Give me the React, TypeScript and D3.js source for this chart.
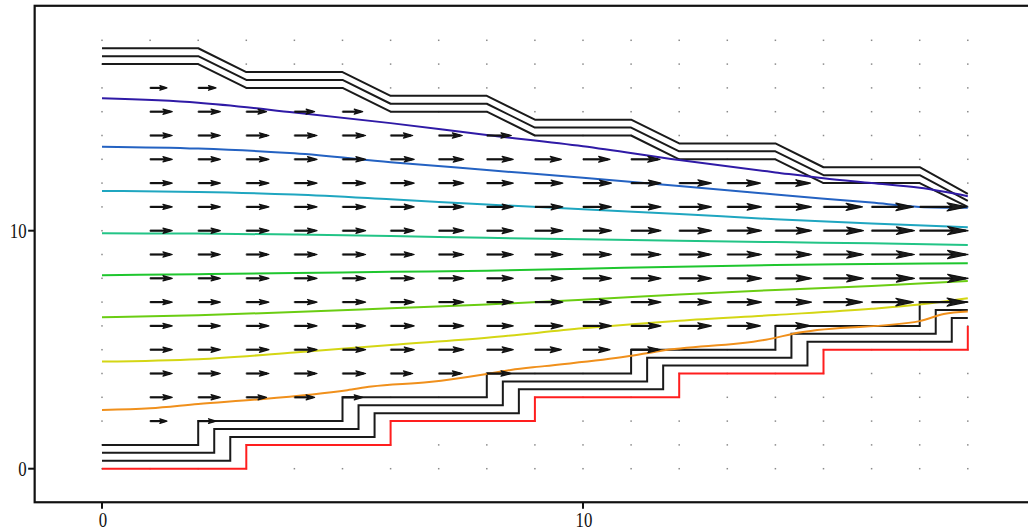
import * as d3 from 'd3';

// plot box in data units (Maple-style boxed axes)
const xDomain = [-1.4, 19.45];
const yDomain = [-1.41, 19.45];
const xTicks = [0, 10];
const yTicks = [0, 10];

// upper wall (stairs with sloped risers) and its two parallel copies
const topWallX = [0, 2, 3, 5, 6, 8, 9, 11, 12, 14, 15, 17, 18];
const topWallY = [17, 17, 16, 16, 15, 15, 14, 14, 13, 13, 12, 12, 11];
const topLineOffsets = [0, 1 / 3, 2 / 3];
const topLineEndY = [11, 11.25, 11.55];

// lower wall (red) and the three shifted black copies
const bottomWallX = [0, 3, 3, 6, 6, 9, 9, 12, 12, 15, 15, 18, 18];
const bottomWallY = [0, 0, 1, 1, 2, 2, 3, 3, 4, 4, 5, 5, 6];
const bottomLineOffsets = [1 / 3, 2 / 3, 1];

// streamlines
const streamIndigo = [[0, 15.56], [2, 15.38], [4, 14.97], [6, 14.52], [8, 14.02], [10, 13.55], [12, 12.97], [14, 12.45], [15, 12.2], [16, 12.0], [17, 11.8], [18, 11.45]];
const streamBlue = [[0, 13.53], [2, 13.45], [4, 13.25], [6, 12.88], [8, 12.55], [10, 12.22], [12, 11.88], [14, 11.52], [16, 11.18], [17, 11.0], [18, 10.96]];
const streamCyan = [[0, 11.67], [2, 11.63], [4, 11.52], [6, 11.32], [8, 11.1], [10, 10.9], [12, 10.7], [14, 10.48], [16, 10.3], [18, 10.15]];
const streamTeal = [[0, 9.89], [2, 9.88], [4, 9.84], [6, 9.78], [8, 9.7], [10, 9.64], [12, 9.58], [14, 9.52], [16, 9.47], [18, 9.4]];
const streamGreen = [[0, 8.13], [2, 8.17], [4, 8.22], [6, 8.27], [8, 8.32], [10, 8.4], [12, 8.49], [14, 8.56], [16, 8.6], [18, 8.63]];
const streamLime = [[0, 6.36], [2, 6.45], [4, 6.58], [6, 6.74], [8, 6.9], [10, 7.1], [12, 7.32], [14, 7.51], [16, 7.68], [18, 7.89]];
const streamYellow = [[0, 4.5], [2, 4.6], [4, 4.88], [6, 5.2], [8, 5.5], [10, 5.9], [12, 6.22], [14, 6.46], [16, 6.72], [17, 6.9], [18, 7.16]];
const streamOrange = [[0, 2.47], [1, 2.54], [2, 2.72], [3.3, 2.92], [5.1, 3.3], [5.6, 3.45], [6.8, 3.64], [8, 3.98], [8.5, 4.15], [9.2, 4.31], [10.9, 4.71], [11.6, 4.95], [13.8, 5.42], [14.5, 5.72], [17, 6.2], [17.5, 6.5], [18, 6.6]];

const streams = [
    { pts: streamIndigo, color: '#2f1aa6' },
    { pts: streamBlue, color: '#2462c2' },
    { pts: streamCyan, color: '#1fa6c0' },
    { pts: streamTeal, color: '#22c486' },
    { pts: streamGreen, color: '#1fc62e' },
    { pts: streamLime, color: '#6acd12' },
    { pts: streamYellow, color: '#d4d614' },
    { pts: streamOrange, color: '#f0901c' }
];

// velocity arrows: one per grid column, rows between the walls
const arrowCols = [1, 2, 3, 4, 5, 6, 7, 8, 9, 10, 11, 12, 13, 14, 15, 16, 17];
const arrowRowLo = [2, 2, 3, 3, 3, 4, 4, 4, 5, 5, 5, 6, 6, 6, 7, 7, 7];
const arrowRowHi = [16, 16, 15, 15, 15, 14, 14, 14, 13, 13, 13, 12, 12, 12, 11, 11, 11];
const arrowCore = [0.46, 0.46, 0.47, 0.47, 0.48, 0.49, 0.52, 0.55, 0.58, 0.59, 0.62, 0.67, 0.71, 0.75, 0.83, 0.89, 1.0];
const arrowEdge = [0.35, 0.37, 0.42, 0.42, 0.42, 0.46, 0.49, 0.51, 0.55, 0.56, 0.6, 0.67, 0.69, 0.73, 0.81, 0.87, 0.98];

const gridCols = d3.range(0, 19);
const gridRows = d3.range(0, 19);

const x = d3.scaleLinear().domain([0, 10]).range([102, 583]);
const y = d3.scaleLinear().domain([0, 10]).range([468.7, 230.7]);

const Label = ({ tx, ty, anchor, text }: any) => (
    <g transform={`translate(${tx},${ty}) scale(0.84,1)`}>
        <text x={0} y={0} textAnchor={anchor} fontFamily="'Liberation Serif', serif" fontSize={20} fill="#111">{text}</text>
    </g>
);

export default function App() {
    const line = d3.line<any>().x((d: any) => x(d[0])).y((d: any) => y(d[1]));
    const smooth = d3.line<any>().x((d: any) => x(d[0])).y((d: any) => y(d[1])).curve(d3.curveMonotoneX);

    const left = x(xDomain[0]);
    const right = x(xDomain[1]);
    const top = y(yDomain[1]);
    const bottom = y(yDomain[0]);

    const topLines = topLineOffsets.map((off, k) => {
        const pts = topWallX.map((xv, i) => [xv, topWallY[i] + off]);
        pts[pts.length - 1] = [18, topLineEndY[k]];
        return pts;
    });

    const redLine = bottomWallX.map((xv, i) => [xv, bottomWallY[i]]);
    const blackBottom = bottomLineOffsets.map(off => {
        const pts = bottomWallX.map((xv, i) => [xv - off, bottomWallY[i] + off]);
        pts[0] = [0, pts[0][1]];
        pts.push([18, pts[pts.length - 1][1]]);
        return pts;
    });

    const arrows: any[] = [];
    arrowCols.forEach((c, ci) => {
        for (let j = arrowRowLo[ci]; j <= arrowRowHi[ci]; j++) {
            const len = (j === arrowRowLo[ci] || j === arrowRowHi[ci]) ? arrowEdge[ci] : arrowCore[ci];
            arrows.push({ c, j, len });
        }
    });

    const arrowPath = (a: any) => {
        const x0 = x(a.c);
        const y0 = y(a.j);
        const L = x(a.c + a.len) - x0;
        const h = 0.42 * L;
        const w = 1.4 + 0.055 * L;
        const tip = x0 + L;
        return {
            shaft: `M${x0},${y0}L${tip - 2},${y0}`,
            head: `M${tip},${y0}L${tip - h},${y0 - w}L${tip - h * 0.75},${y0}L${tip - h},${y0 + w}Z`
        };
    };

    return (
        <svg width={1028} height={531} style={{ position: 'absolute', left: 0, top: 0, display: 'block', background: '#fff' }}>
            <g className="dots">
                {gridCols.map(c => gridRows.map(r => (
                    <rect key={`d${c}-${r}`} x={x(c) - 0.75} y={y(r) - 0.75} width={1.5} height={1.5} fill="#8a8a8a" />
                )))}
            </g>

            <g className="walls" fill="none" strokeWidth={2}>
                {topLines.map((pts, k) => (
                    <path key={`t${k}`} d={line(pts as any) || ''} stroke="#1a1a1a" strokeLinejoin="round" />
                ))}
                {blackBottom.map((pts, k) => (
                    <path key={`b${k}`} d={line(pts as any) || ''} stroke="#1a1a1a" />
                ))}
                <path d={line(redLine as any) || ''} stroke="#ff1e1e" />
            </g>

            <g className="streams" fill="none" strokeWidth={2}>
                {streams.map((s, i) => (
                    <path key={`s${i}`} d={smooth(s.pts as any) || ''} stroke={s.color} />
                ))}
            </g>

            <g className="arrows">
                {arrows.map((a, i) => {
                    const p = arrowPath(a);
                    return (
                        <g key={`a${i}`}>
                            <path d={p.shaft} stroke="#111" strokeWidth={2.2} fill="none" />
                            <path d={p.head} stroke="#111" strokeWidth={1.2} fill="#1a1a1a" strokeLinejoin="round" />
                        </g>
                    );
                })}
            </g>

            <rect x={left} y={top} width={right - left} height={bottom - top} fill="none" stroke="#111" strokeWidth={2.2} />

            {yTicks.map(t => (
                <g key={`yt${t}`}>
                    <line x1={left - 6.5} x2={left} y1={y(t)} y2={y(t)} stroke="#111" strokeWidth={2} />
                    <Label tx={left - 8} ty={y(t) + 7.3} anchor="end" text={String(t)} />
                </g>
            ))}
            {xTicks.map(t => (
                <g key={`xt${t}`}>
                    <line x1={x(t)} x2={x(t)} y1={bottom} y2={bottom + 6.5} stroke="#111" strokeWidth={2} />
                    <Label tx={x(t) + 1} ty={526.5} anchor="middle" text={String(t)} />
                </g>
            ))}
        </svg>
    );
}
